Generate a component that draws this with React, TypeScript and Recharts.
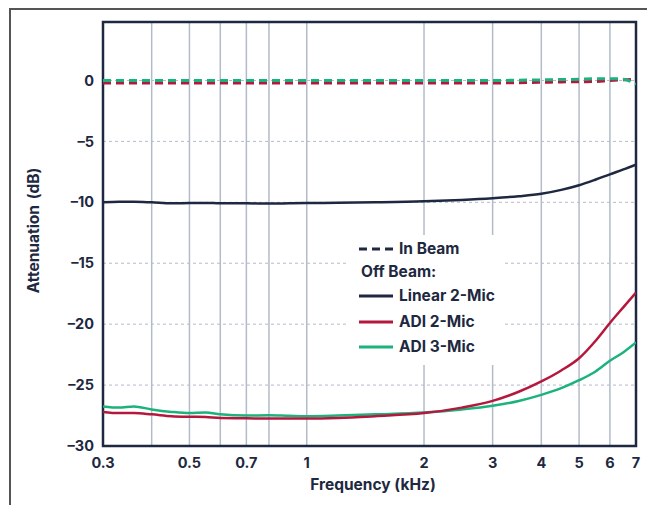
import { LineChart, Line, XAxis, YAxis, CartesianGrid, ReferenceArea } from 'recharts';

// frequency points (kHz) shared by all series
const freqs = [0.3, 0.33, 0.36, 0.4, 0.45, 0.5, 0.55, 0.6, 0.7, 0.8, 0.9, 1, 1.2, 1.5, 2, 2.5, 3, 3.5, 4, 4.5, 5, 5.5, 6, 6.5, 7];

// off beam attenuation (dB)
const linear2Mic = [-10.0, -9.95, -9.95, -10.0, -10.08, -10.06, -10.05, -10.08, -10.08, -10.1, -10.08, -10.06, -10.04, -10.0, -9.92, -9.8, -9.66, -9.5, -9.3, -8.98, -8.6, -8.15, -7.7, -7.3, -6.9];
const adi2Mic = [-27.2, -27.3, -27.3, -27.4, -27.55, -27.6, -27.62, -27.7, -27.72, -27.75, -27.75, -27.75, -27.7, -27.55, -27.3, -26.85, -26.3, -25.55, -24.7, -23.8, -22.8, -21.4, -19.9, -18.6, -17.4];
const adi3Mic = [-26.75, -26.85, -26.75, -27.0, -27.2, -27.3, -27.25, -27.4, -27.5, -27.48, -27.52, -27.55, -27.5, -27.4, -27.25, -27.0, -26.7, -26.3, -25.8, -25.25, -24.6, -23.9, -23.0, -22.3, -21.5];

// in beam attenuation (dB)
const adi2MicIn = [-0.2, -0.2, -0.2, -0.2, -0.2, -0.2, -0.2, -0.2, -0.2, -0.2, -0.2, -0.2, -0.2, -0.2, -0.2, -0.2, -0.2, -0.18, -0.15, -0.12, -0.1, -0.08, 0.0, 0.05, 0.1];
const adi3MicIn = [0.0, 0.0, 0.0, 0.0, 0.0, 0.0, 0.0, 0.0, 0.0, 0.0, 0.0, 0.0, 0.0, 0.0, 0.0, 0.0, 0.0, 0.02, 0.05, 0.08, 0.1, 0.15, 0.15, 0.1, -0.3];

const xTicks = [0.3, 0.4, 0.5, 0.6, 0.7, 0.8, 1, 2, 3, 4, 5, 6, 7];
const xHidden = [0.4, 0.6, 0.8];
const yTicks = [-30, -25, -20, -15, -10, -5, 0];

const NAVY = '#1e2840';
const RED = '#b5183d';
const GREEN = '#1bb27c';
const GRID = '#b3bbcb';

const data = freqs.map((f, i) => ({
  f,
  linear: linear2Mic[i],
  adi2: adi2Mic[i],
  adi3: adi3Mic[i],
  adi2In: adi2MicIn[i],
  adi3In: adi3MicIn[i],
}));

const font = 'Inter, "DejaVu Sans", sans-serif';
const tickStyle = { fontSize: 14.5, fontWeight: 700, fill: NAVY, fontFamily: font };

function LegendRow({ color, dashed, label, top }: { color: string; dashed?: boolean; label: string; top: number }) {
  return (
    <div style={{ position: 'absolute', left: 10, top, display: 'flex', alignItems: 'center', whiteSpace: 'nowrap' }}>
      <svg width={34} height={6} style={{ marginRight: 6 }}>
        <line x1={0} y1={3} x2={34} y2={3} stroke={color} strokeWidth={3} strokeDasharray={dashed ? '8 5' : undefined} />
      </svg>
      <span>{label}</span>
    </div>
  );
}

export default function App() {
  return (
    <div
      style={{
        position: 'relative',
        width: 646,
        height: 497,
        marginLeft: 1,
        borderTop: '2px solid #555',
        borderLeft: '2px solid #555',
        boxSizing: 'border-box',
        fontFamily: font,
        overflow: 'hidden',
      }}
    >
      <div style={{ position: 'absolute', left: -2, top: -2 }}>
        <LineChart width={647} height={490} data={data} margin={{ top: 14, right: 20, left: 34, bottom: 22 }}>
          <CartesianGrid vertical={false} stroke={GRID} strokeDasharray="3 3" />
          <CartesianGrid horizontal={false} stroke={GRID} strokeWidth={1.5} />
          <XAxis
            dataKey="f"
            type="number"
            scale="log"
            domain={[0.3, 7]}
            ticks={xTicks}
            allowDataOverflow
            axisLine={false}
            tickLine={false}
            tickSize={8}
            tickMargin={4}
            height={30}
            interval={0}
            tick={tickStyle}
            tickFormatter={(v: number) => (xHidden.includes(v) ? '' : String(v))}
          />
          <YAxis
            type="number"
            domain={[-30, 4.8]}
            ticks={yTicks}
            allowDataOverflow
            axisLine={false}
            tickLine={false}
            tickSize={6}
            tickMargin={3}
            width={60}
            interval={0}
            tick={tickStyle}
            tickFormatter={(v: number) => (v < 0 ? `\u2013${-v}` : String(v))}
          />
          <Line type="monotone" dataKey="adi2In" stroke={RED} strokeWidth={3} strokeDasharray="8 5" dot={false} isAnimationActive={false} />
          <Line type="monotone" dataKey="adi3In" stroke={GREEN} strokeWidth={3} strokeDasharray="8 5" dot={false} isAnimationActive={false} />
          <Line type="monotone" dataKey="linear" stroke={NAVY} strokeWidth={2.5} dot={false} isAnimationActive={false} />
          <Line type="monotone" dataKey="adi3" stroke={GREEN} strokeWidth={2.5} dot={false} isAnimationActive={false} />
          <Line type="monotone" dataKey="adi2" stroke={RED} strokeWidth={2.5} dot={false} isAnimationActive={false} />
          <ReferenceArea x1={0.3} x2={7} y1={-30} y2={4.8} fill="none" stroke={NAVY} strokeWidth={2.5} ifOverflow="visible" />
        </LineChart>
      </div>

      {/* legend */}
      <div
        style={{
          position: 'absolute',
          left: 338,
          top: 225,
          width: 156,
          height: 130,
          background: '#fff',
          color: NAVY,
          fontSize: 15.5,
          fontWeight: 700,
          lineHeight: '18px',
        }}
      >
        <LegendRow color={NAVY} dashed label="In Beam" top={5} />
        <div style={{ position: 'absolute', left: 12, top: 28 }}>Off Beam:</div>
        <LegendRow color={NAVY} label="Linear 2-Mic" top={52} />
        <LegendRow color={RED} label="ADI 2-Mic" top={78} />
        <LegendRow color={GREEN} label="ADI 3-Mic" top={103} />
      </div>

      <div
        style={{
          position: 'absolute',
          left: 22 - 80,
          top: 211,
          width: 160,
          textAlign: 'center',
          transform: 'rotate(-90deg)',
          color: NAVY,
          fontSize: 15.5,
          fontWeight: 700,
          wordSpacing: 2,
        }}
      >
        Attenuation (dB)
      </div>
      <div
        style={{
          position: 'absolute',
          left: 280,
          top: 465,
          width: 164,
          textAlign: 'center',
          color: NAVY,
          fontSize: 15.5,
          fontWeight: 700,
        }}
      >
        Frequency (kHz)
      </div>
    </div>
  );
}
